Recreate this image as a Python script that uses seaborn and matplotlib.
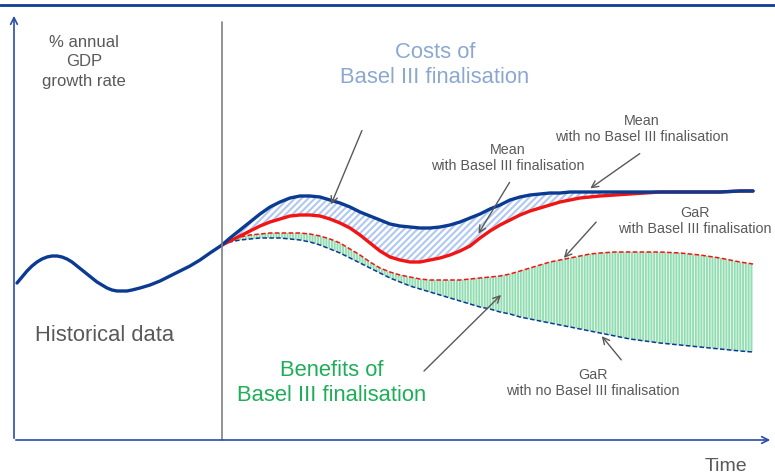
import matplotlib
matplotlib.use("Agg")
import matplotlib.pyplot as plt
import seaborn as sns
import pandas as pd

sns.set_theme(style="white")
plt.rcParams['font.family'] = ['Liberation Sans', 'DejaVu Sans']

# --- data (schematic, chart units: x = time, y = position from top) ---
hist_x = [17, 22, 27, 32, 37, 42, 47, 52, 57, 62, 67, 72, 77, 82, 87, 92, 97, 102, 107, 112,
          117, 122, 127, 132, 140, 150, 160, 170, 180, 190, 200, 210, 222]
hist_y = [283, 277, 271, 266, 262, 259, 257, 256, 256, 257, 259, 262, 266, 270, 274, 278, 282,
          285, 288, 290, 291, 291, 291, 290, 288, 285, 281, 276, 271, 266, 260, 253, 245]

fc_x = [222, 230, 240, 250, 260, 270, 280, 290, 300, 310, 320, 330, 340, 350, 360, 370, 380,
        390, 400, 410, 420, 430, 440, 450, 460, 470, 480, 490, 500, 510, 520, 530, 540, 550,
        560, 570, 580, 590, 600, 615, 630, 645, 660, 680, 700, 720, 740, 753]
mean_no_y = [245, 238, 230, 222, 214, 207, 202, 198, 196, 196, 197, 200, 203, 207, 212, 216,
             220, 224, 226, 227, 228, 228, 227, 225, 222, 218, 214, 209, 205, 200, 197, 195,
             194, 193, 193, 192, 192, 192, 192, 192, 192, 192, 192, 192, 192, 192, 191, 191]
mean_b3_y = [245, 241, 236, 231, 226, 222, 219, 216, 215, 215, 216, 219, 223, 228, 235, 243,
             251, 257, 260, 262, 262, 260, 258, 255, 251, 246, 238, 231, 225, 220, 215, 211,
             208, 205, 202, 200, 198, 197, 196, 195, 194, 193, 192, 192, 192, 192, 191, 191]
gar_b3_y = [245, 240, 237, 235, 234, 233, 233, 233, 233, 234, 236, 239, 243, 249, 255, 262,
            268, 272, 275, 277, 279, 280, 280, 280, 280, 279, 278, 277, 276, 274, 271, 268,
            265, 262, 260, 258, 256, 254, 253, 252, 252, 252, 252, 253, 255, 258, 262, 264]
gar_no_y = [245, 242, 240, 239, 238, 238, 238, 239, 240, 242, 245, 249, 253, 258, 263, 268,
            273, 278, 282, 286, 289, 292, 295, 298, 301, 304, 307, 309, 312, 314, 317, 319,
            321, 323, 325, 327, 329, 331, 333, 336, 339, 341, 343, 345, 347, 349, 351, 352]

fc = pd.DataFrame({"x": fc_x, "mean_no": mean_no_y, "mean_b3": mean_b3_y,
                   "gar_b3": gar_b3_y, "gar_no": gar_no_y})
hist = pd.DataFrame({"x": hist_x, "y": hist_y})

NAVY = "#0B3A92"
RED = "#F21414"
GRAY = "#595959"
AXBLUE = "#2A4DA8"

fig = plt.figure(figsize=(7.75, 4.73), dpi=100)
ax = fig.add_axes([0, 0, 1, 1])

# shaded areas
with plt.rc_context({'hatch.linewidth': 1.5}):
    ax.fill_between(fc["x"], fc["mean_no"], fc["mean_b3"], facecolor="none",
                    edgecolor="#AFC8F2", hatch="/////", linewidth=0)
with plt.rc_context({'hatch.linewidth': 1.3}):
    ax.fill_between(fc["x"], fc["gar_b3"], fc["gar_no"], facecolor="#E6F6EC",
                    edgecolor="#93DDB3", hatch="||||||", linewidth=0)

# lines
sns.lineplot(data=hist, x="x", y="y", ax=ax, color=NAVY, lw=2.4, sort=False)
sns.lineplot(data=fc, x="x", y="gar_no", ax=ax, color=NAVY, lw=1.1, sort=False, linestyle=(0, (3, 1.5)))
sns.lineplot(data=fc, x="x", y="gar_b3", ax=ax, color=RED, lw=1.1, sort=False, linestyle=(0, (3, 1.5)))
sns.lineplot(data=fc, x="x", y="mean_b3", ax=ax, color=RED, lw=2.4, sort=False)
sns.lineplot(data=fc, x="x", y="mean_no", ax=ax, color=NAVY, lw=2.4, sort=False)
ax.set_xlim(0, 775)
ax.set_ylim(473, 0)
ax.axis("off")

# frame: top line, axes with arrows, divider
ax.plot([0, 775], [5, 5], color="#0E3C96", lw=2)
ax.plot([222, 222], [22, 440], color="#808080", lw=1.2)
ax.annotate("", xy=(14, 13), xytext=(14, 441),
            arrowprops=dict(arrowstyle="->", color=AXBLUE, lw=1.2, mutation_scale=12))
ax.annotate("", xy=(773, 440), xytext=(13, 440),
            arrowprops=dict(arrowstyle="->", color=AXBLUE, lw=1.2, mutation_scale=12))

# texts
ax.text(84, 62, "% annual\nGDP\ngrowth rate", ha="center", va="center", color=GRAY,
        fontsize=12, linespacing=1.4)
ax.text(435, 65, "Costs of\nBasel III finalisation", ha="center", va="center",
        color="#8BA8D0", fontsize=15.8, linespacing=1.25)
ax.text(35, 335, "Historical data", ha="left", va="center", color=GRAY, fontsize=15.8)
ax.text(332, 383, "Benefits of\nBasel III finalisation", ha="center", va="center",
        color="#1EAE58", fontsize=15.8, linespacing=1.2)
ax.text(726, 466, "Time", ha="center", va="center", color=GRAY, fontsize=14)

small = dict(ha="center", va="center", color=GRAY, fontsize=10.3, linespacing=1.25)
ax.text(642, 129, "Mean\nwith no Basel III finalisation", **small)
ax.text(508, 158, "Mean\nwith Basel III finalisation", **small)
ax.text(695, 221, "GaR\nwith Basel III finalisation", **small)
ax.text(593, 383, "GaR\nwith no Basel III finalisation", **small)

arrow = dict(arrowstyle="->", color=GRAY, lw=1.0, mutation_scale=12)
ax.annotate("", xy=(330, 207), xytext=(363, 128), arrowprops=arrow)
ax.annotate("", xy=(588, 190), xytext=(642, 152), arrowprops=arrow)
ax.annotate("", xy=(477, 236), xytext=(511, 180), arrowprops=arrow)
ax.annotate("", xy=(562, 260), xytext=(598, 220), arrowprops=arrow)
ax.annotate("", xy=(503, 293), xytext=(422, 373), arrowprops=arrow)
ax.annotate("", xy=(600, 334), xytext=(623, 362), arrowprops=arrow)

fig.savefig("out.png", dpi=100)
